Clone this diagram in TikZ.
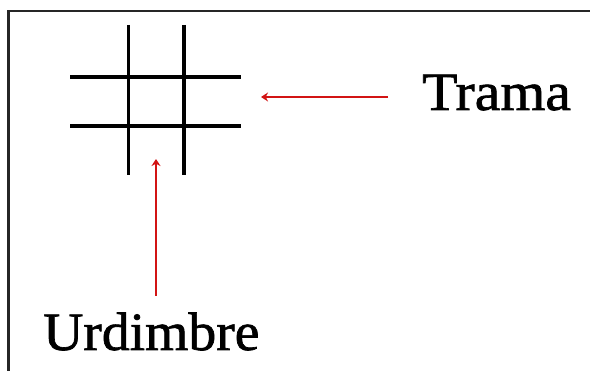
\documentclass[tikz,border=0pt]{standalone}
\usepackage{fontspec}
\setmainfont{Liberation Serif}
\newfontfamily\heavyserif[FakeBold=1.2]{Liberation Serif}
\usetikzlibrary{arrows.meta}
\definecolor{arrred}{RGB}{210,20,20}
\tikzset{
  frameline/.style={line width=2.2pt, black!85},
  thread/.style={line width=3.4pt, black},
  redarrow/.style={line width=2.2pt, arrred, -{Stealth[length=7pt,width=9pt]}},
  label/.style={font=\heavyserif\fontsize{54}{60}\selectfont, inner sep=0pt, anchor=base west}
}
\begin{document}
\begin{tikzpicture}[x=1pt,y=-1pt]
\useasboundingbox (0,0) rectangle (590,371);
% frame (top and left only)
\draw[frameline] (8.5,371) -- (8.5,11) -- (590,11);
% woven grid
\draw[thread] (128.5,25) -- (128.5,175);
\draw[thread] (184,25) -- (184,175);
\draw[thread] (70,77) -- (241,77);
\draw[thread] (70,126) -- (241,126);
% labels
\node[label, xscale=1.07] (trama) at (422,110) {Trama};
\node[label, xscale=1.03] (urdimbre) at (43,350) {Urdimbre};
% arrows
\coordinate (tramaStart) at (388,97);
\coordinate (tramaEnd) at (261,97);
\coordinate (urdStart) at (156,296);
\coordinate (urdEnd) at (156,159);
\draw[redarrow] (tramaStart) -- (tramaEnd);
\draw[redarrow] (urdStart) -- (urdEnd);
\end{tikzpicture}
\end{document}
